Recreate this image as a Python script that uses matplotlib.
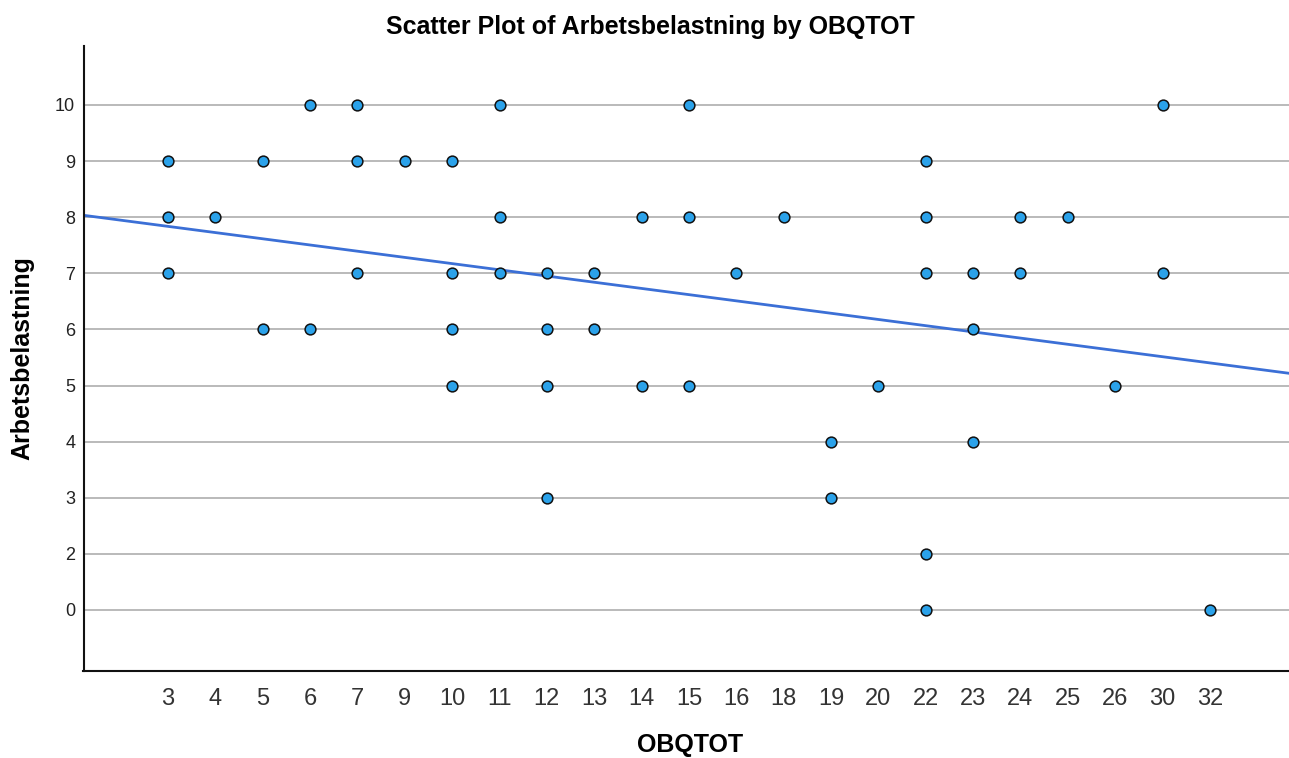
import matplotlib
matplotlib.use("Agg")
import matplotlib.pyplot as plt
import numpy as np

# ---- data ----
x_categories = [3, 4, 5, 6, 7, 9, 10, 11, 12, 13, 14, 15, 16, 18, 19, 20, 22, 23, 24, 25, 26, 30, 32]
y_categories = [0, 2, 3, 4, 5, 6, 7, 8, 9, 10]

obqtot = [3, 3, 3, 4, 5, 5, 6, 6, 7, 7, 7, 9, 10, 10, 10, 10, 11, 11, 11,
          12, 12, 12, 12, 13, 13, 14, 14, 15, 15, 15, 16, 18, 19, 19, 20,
          22, 22, 22, 22, 22, 23, 23, 23, 24, 24, 25, 26, 30, 30, 32]
arbetsbelastning = [9, 8, 7, 8, 9, 6, 10, 6, 10, 9, 7, 9, 9, 7, 6, 5, 10, 8, 7,
                    7, 6, 5, 3, 7, 6, 8, 5, 10, 8, 5, 7, 8, 4, 3, 5,
                    9, 8, 7, 2, 0, 7, 6, 4, 8, 7, 8, 5, 10, 7, 0]

# fit line (in category-position space)
fit_intercept = 6.836
fit_slope = -0.1106

# ---- plot ----
plt.rcParams['font.family'] = ['Liberation Sans', 'DejaVu Sans']
fig = plt.figure(figsize=(12.89, 7.58), dpi=100)
left, right = 83.5 / 1289, 1.0
bottom, top = 1 - 671 / 758, 1 - 46 / 758
ax = fig.add_axes([left, bottom, right - left, top - bottom])

xpos = [x_categories.index(v) for v in obqtot]
ypos = [y_categories.index(v) for v in arbetsbelastning]

xlim = (-1.784, 23.67)
ylim = (-1.087, 10.05)
ax.set_xlim(*xlim)
ax.set_ylim(*ylim)

for i in range(len(y_categories)):
    ax.axhline(i, color='#b4b4b4', lw=1.3, zorder=1)

xx = np.array(xlim)
ax.plot(xx, fit_intercept + fit_slope * xx, color='#3b6fd6', lw=2.0, zorder=2)

ax.scatter(xpos, ypos, s=60, facecolor='#2ba2ea', edgecolor='#111111',
           linewidth=1.1, zorder=3)

ax.set_xticks(range(len(x_categories)))
ax.set_xticklabels([str(v) for v in x_categories], fontsize=17, color='#333333')
ax.set_yticks(range(len(y_categories)))
ax.set_yticklabels([str(v) for v in y_categories], fontsize=13, color='#222222')
ax.tick_params(axis='x', length=0, pad=12)
ax.tick_params(axis='y', length=0, pad=6)

for s in ['top', 'right']:
    ax.spines[s].set_visible(False)
for s in ['left', 'bottom']:
    ax.spines[s].set_linewidth(1.5)
    ax.spines[s].set_color('#111111')

fig.text(650 / 1289, 1 - 27 / 758, 'Scatter Plot of Arbetsbelastning by OBQTOT',
         ha='center', va='center', fontsize=18, fontweight='bold')
fig.text(22 / 1289, 1 - 358 / 758, 'Arbetsbelastning', rotation=90,
         ha='center', va='center', fontsize=18, fontweight='bold')
fig.text(690 / 1289, 1 - 745 / 758, 'OBQTOT',
         ha='center', va='center', fontsize=18, fontweight='bold')

fig.savefig('out.png', dpi=100, facecolor='white')
